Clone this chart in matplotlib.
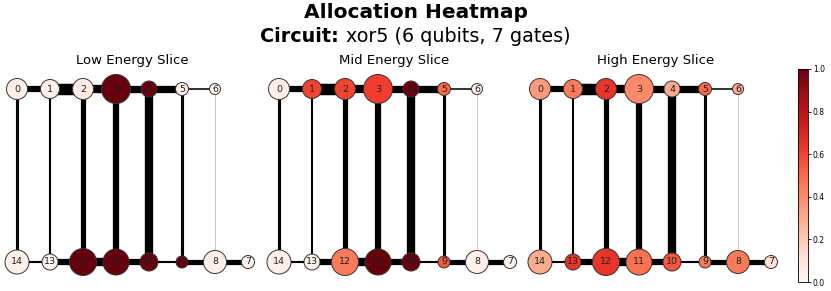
import matplotlib
matplotlib.use("Agg")
import matplotlib.pyplot as plt
import numpy as np
from matplotlib.colors import Normalize
from matplotlib.cm import ScalarMappable

# ---- data ----
qubits = list(range(15))
edges = [(0, 1), (1, 2), (2, 3), (3, 4), (4, 5), (5, 6),
         (14, 13), (13, 12), (12, 11), (11, 10), (10, 9), (9, 8), (8, 7),
         (0, 14), (1, 13), (2, 12), (3, 11), (4, 10), (5, 9), (6, 8)]
edge_weight = [6, 11, 8, 7, 7, 1.5,
               2, 6, 8, 6, 2, 5, 5,
               3, 2, 5, 6, 8, 3, 0.8]
node_size = [21, 19, 21, 29, 16, 13, 11, 13, 23, 12, 18, 26, 27, 16, 24]

slice_titles = ["Low Energy Slice", "Mid Energy Slice", "High Energy Slice"]
low_alloc = [0.03, 0.03, 0.05, 1.0, 1.0, 0.02, 0.0, 0.0, 0.03, 1.0, 1.0, 1.0, 1.0, 0.0, 0.03]
mid_alloc = [0.03, 0.6, 0.6, 0.62, 1.0, 0.5, 0.0, 0.0, 0.03, 0.55, 1.0, 1.0, 0.45, 0.02, 0.03]
high_alloc = [0.35, 0.45, 0.65, 0.4, 0.3, 0.5, 0.3, 0.12, 0.45, 0.45, 0.55, 0.48, 0.65, 0.65, 0.3]
allocs = [low_alloc, mid_alloc, high_alloc]

main_title = "Allocation Heatmap"
circuit_name = "xor5"
n_qubits = 6
n_gates = 7

# ---- layout (ladder: 0-6 top, 7-14 bottom reversed) ----
def pos(q):
    if q <= 6:
        return q, 1.0
    return 14 - q, 0.0

W, H = 831, 291
fig = plt.figure(figsize=(W / 100, H / 100), dpi=100)
cmap = plt.get_cmap("Reds")
norm = Normalize(0, 1)

fig.text(0.5, 1 - 12 / H, main_title, ha="center", va="center",
         fontsize=14.5, fontweight="bold")
sub_y = 1 - 37 / H
t1 = fig.text(0.5, sub_y, "Circuit: ", ha="right", va="center",
              fontsize=13.8, fontweight="bold")
t2 = fig.text(0.5, sub_y, f"{circuit_name} ({n_qubits} qubits, {n_gates} gates)",
              ha="left", va="center", fontsize=13.8)
fig.canvas.draw()
r = fig.canvas.get_renderer()
w1 = t1.get_window_extent(r).width
w2 = t2.get_window_extent(r).width
tot = w1 + w2
cx = W / 2
t1.set_position(((cx - tot / 2 + w1) / W, sub_y))
t2.set_position(((cx - tot / 2 + w1) / W, sub_y))

ppu_x = 33.0
ppu_y = 173.0
ax_top_px, ax_bot_px = 70, 283
row_top_px, row_bot_px = 89, 262
panel_x0 = [17, 279, 540]

for k, (title, alloc) in enumerate(zip(slice_titles, allocs)):
    left_px = panel_x0[k] - 0.5 * ppu_x
    width_px = 8 * ppu_x
    ax = fig.add_axes([left_px / W, 1 - ax_bot_px / H, width_px / W,
                       (ax_bot_px - ax_top_px) / H])
    ax.set_xlim(-0.5, 7.5)
    ax.set_ylim(-(ax_bot_px - row_bot_px) / ppu_y, 1 + (row_top_px - ax_top_px) / ppu_y)
    ax.axis("off")
    ax.set_title(title, fontsize=9.5, pad=4)
    for (a, b), w in zip(edges, edge_weight):
        xa, ya = pos(a)
        xb, yb = pos(b)
        col = "black" if w >= 1.0 else "#bbbbbb"
        ax.plot([xa, xb], [ya, yb], color=col, lw=w * 0.75, zorder=1,
                solid_capstyle="butt")
    xs = [pos(q)[0] for q in qubits]
    ys = [pos(q)[1] for q in qubits]
    sizes = [(d * 0.72) ** 2 for d in node_size]
    ax.scatter(xs, ys, s=sizes, c=alloc, cmap=cmap, norm=norm,
               edgecolors="#333333", linewidths=0.7, zorder=2)
    for q in qubits:
        x, y = pos(q)
        ax.text(x, y, str(q), ha="center", va="center", fontsize=6.8,
                color="#222222", zorder=3)

cax = fig.add_axes([798 / W, 1 - 282 / H, 10 / W, 213 / H])
cb = fig.colorbar(ScalarMappable(norm=norm, cmap=cmap), cax=cax)
cb.set_ticks([0, 0.2, 0.4, 0.6, 0.8, 1.0])
cb.ax.tick_params(labelsize=5.5, length=2, width=0.6, pad=1.5)
cb.outline.set_linewidth(0.6)

fig.savefig("out.png", dpi=100)
